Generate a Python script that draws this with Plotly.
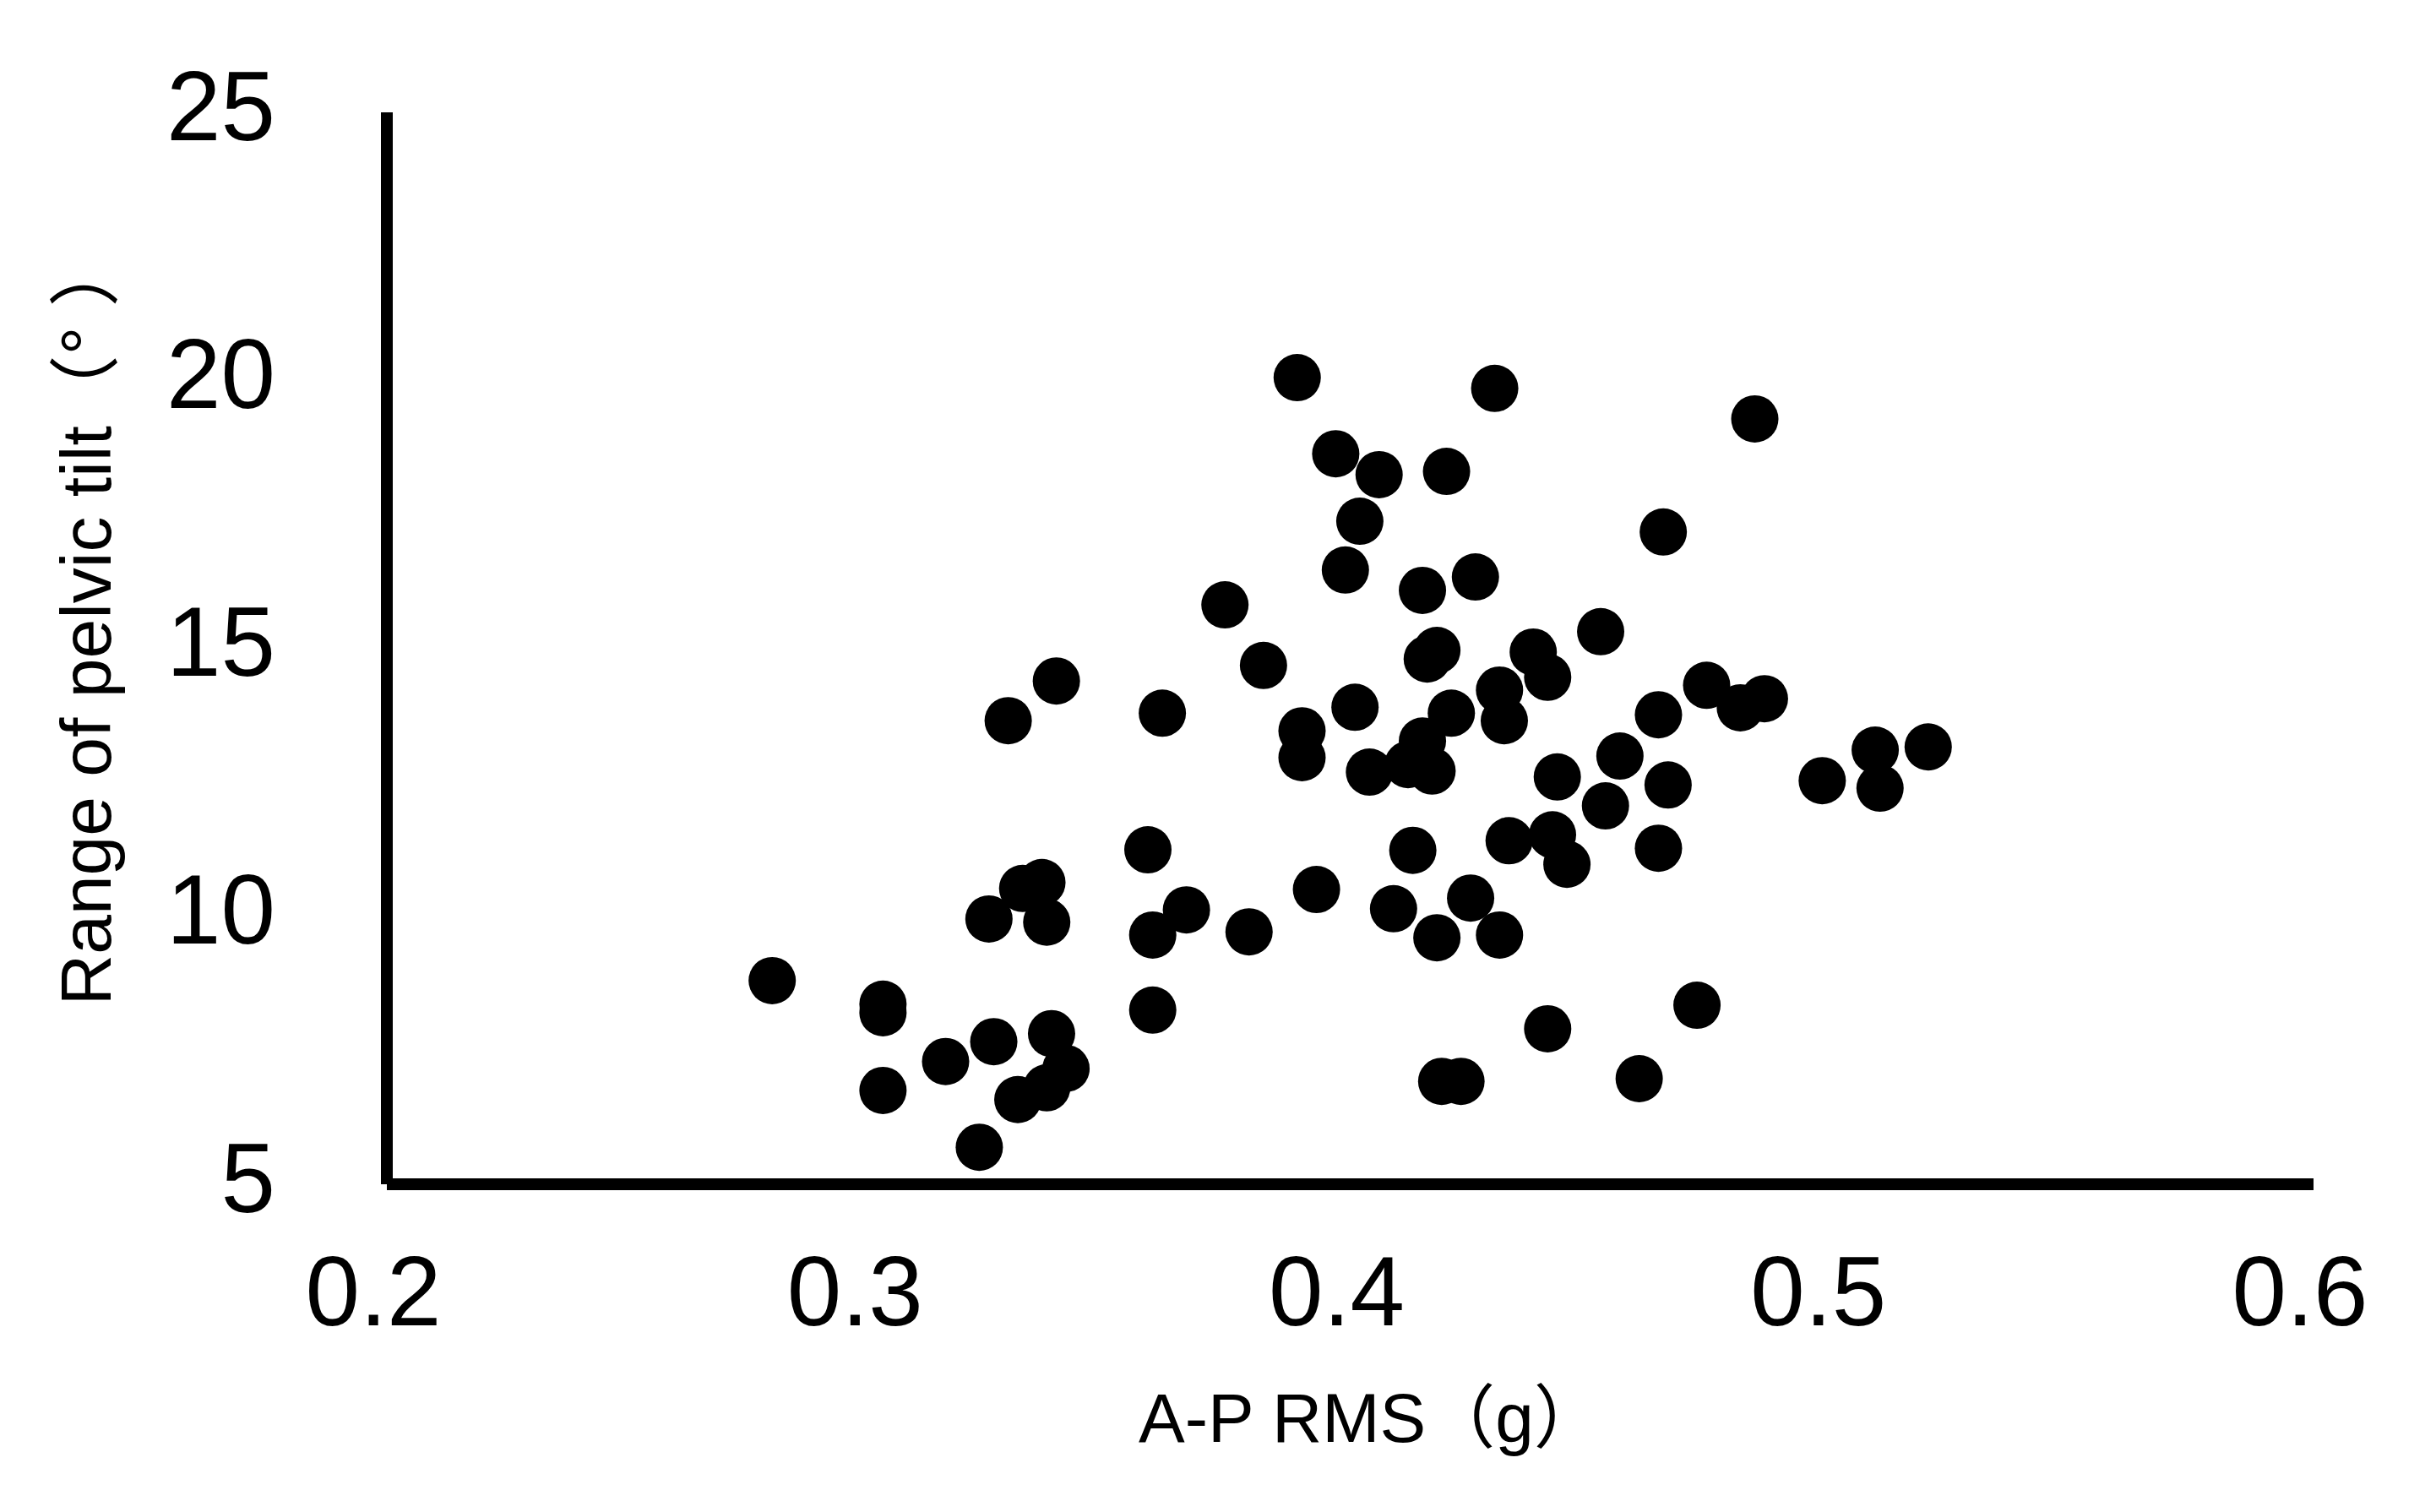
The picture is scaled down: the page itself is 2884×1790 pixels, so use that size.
import plotly.graph_objects as go

# A-P RMS (g)
ap_rms = [0.280, 0.303, 0.303, 0.303, 0.316, 0.323, 0.326, 0.331, 0.337, 0.341,
          0.338, 0.325, 0.332, 0.336, 0.337, 0.329, 0.339, 0.358, 0.359, 0.359,
          0.361, 0.366, 0.374, 0.379, 0.382, 0.389, 0.390, 0.390, 0.393, 0.397,
          0.399, 0.401, 0.402, 0.404, 0.406, 0.409, 0.413, 0.415, 0.415, 0.416,
          0.417, 0.418, 0.418, 0.419, 0.420, 0.421, 0.423, 0.425, 0.426, 0.430,
          0.431, 0.432, 0.431, 0.433, 0.438, 0.441, 0.442, 0.441, 0.443, 0.445,
          0.452, 0.453, 0.456, 0.460, 0.464, 0.465, 0.466, 0.464, 0.472, 0.474,
          0.481, 0.484, 0.486, 0.498, 0.509, 0.510, 0.520, 0.412]

# Range of pelvic tilt (deg)
pelvic_tilt = [8.80, 8.36, 8.20, 6.75, 7.29, 5.69, 7.66, 6.58, 6.80, 7.16,
               7.81, 9.95, 10.52, 10.63, 9.89, 13.65, 14.39, 11.24, 9.65, 8.25,
               13.79, 10.12, 15.81, 9.71, 14.68, 20.05, 13.46, 12.96, 10.50, 18.63,
               16.46, 13.90, 17.37, 12.69, 18.24, 10.14, 11.23, 16.08, 13.27, 14.80,
               12.71, 14.96, 9.60, 6.92, 18.30, 13.79, 6.92, 10.34, 16.33, 19.85,
               14.22, 13.65, 9.65, 11.41, 14.93, 14.46, 11.52, 7.90, 12.60, 10.97,
               15.31, 12.06, 12.99, 6.97, 13.76, 17.17, 12.45, 11.27, 8.34, 14.31,
               13.89, 19.28, 14.06, 12.53, 13.10, 12.39, 13.16, 12.83]

x_ticks = [0.2, 0.3, 0.4, 0.5, 0.6]
x_tick_labels = ["0.2", "0.3", "0.4", "0.5", "0.6"]
y_ticks = [5, 10, 15, 20, 25]
y_tick_labels = ["5", "10", "15", "20", "25"]

x_title = "A-P RMS（g）"
y_title = "Range of pelvic tilt（°\u00a0）"

FONT = "Liberation Sans, Arial, Noto Sans CJK JP, sans-serif"

fig = go.Figure()
fig.add_trace(go.Scatter(
    x=ap_rms, y=pelvic_tilt, mode="markers",
    marker=dict(size=56, color="black", line=dict(width=0)),
    showlegend=False,
))

fig.update_layout(
    width=2868, height=1774,
    margin=dict(l=450, r=137, t=125, b=380, autoexpand=False),
    paper_bgcolor="white", plot_bgcolor="white",
    font=dict(family=FONT, color="black"),
)

fig.update_xaxes(
    range=[0.2, 0.6], tickvals=x_ticks, ticktext=x_tick_labels,
    showgrid=False, zeroline=False, showline=False,
    ticks="", tickfont=dict(size=116, family=FONT, color="black"),
    ticklabelstandoff=50, ticklabelshift=-16, automargin=False,
)
fig.update_yaxes(
    range=[5, 25], tickvals=y_ticks, ticktext=y_tick_labels,
    showgrid=False, zeroline=False, showline=False,
    ticks="", tickfont=dict(size=116, family=FONT, color="black"),
    ticklabelstandoff=131, ticklabelshift=-8, automargin=False,
)

# axis lines centred on the plot-area edges (like the original's axes)
fig.add_shape(type="line", xref="paper", yref="paper", x0=0, x1=1, y0=0, y1=0,
              line=dict(color="black", width=14), layer="above")
fig.add_shape(type="line", xref="paper", yref="paper", x0=0, x1=0, y0=0, y1=1,
              line=dict(color="black", width=14), layer="above")

# axis titles
fig.add_annotation(
    text=x_title, showarrow=False,
    xref="paper", yref="paper", x=0.5, y=0,
    xanchor="center", yanchor="middle", xshift=24, yshift=-276,
    font=dict(size=82, family=FONT, color="black"),
)
fig.add_annotation(
    text=y_title, textangle=-90, showarrow=False,
    xref="paper", yref="paper", x=0, y=0.5,
    xanchor="center", yanchor="middle", xshift=-357, yshift=32,
    font=dict(size=84, family=FONT, color="black"),
)

fig.write_html("out.html")
